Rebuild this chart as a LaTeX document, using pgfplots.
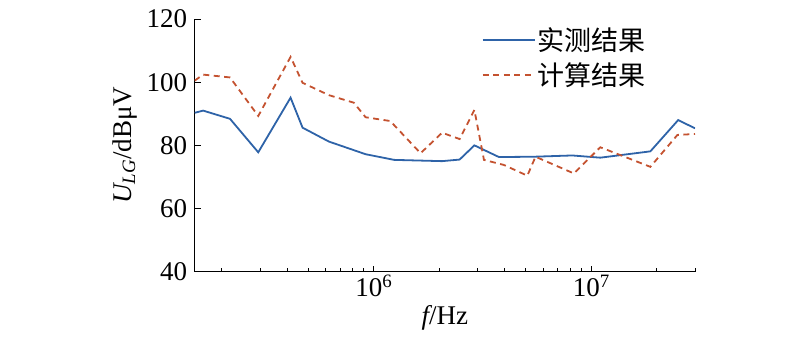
\documentclass[border=0pt]{standalone}
\usepackage{fontspec}
\setmainfont{Liberation Serif}
\newfontfamily\cjk{Noto Sans CJK SC}
\usepackage{pgfplots}
\pgfplotsset{compat=1.18}
\definecolor{cblue}{RGB}{46,99,168}
\definecolor{cred}{RGB}{196,82,48}
\begin{document}
\begin{tikzpicture}
\begin{axis}[
  at={(0,0)}, anchor=south west,
  scale only axis, width=500.3bp, height=252.7bp,
  xmode=log, xmin=1.5e5, xmax=3e7, ymin=40, ymax=120,
  axis x line*=bottom, axis y line*=left,
  axis line style={line width=1bp},
  tick align=inside,
  major tick length=6bp, minor tick length=4bp,
  every tick/.style={black, line width=0.9bp},
  xtick={1e6,1e7}, xticklabels={10\textsuperscript{6},10\textsuperscript{7}},
  minor xtick={2e5,3e5,4e5,5e5,6e5,7e5,8e5,9e5,2e6,3e6,4e6,5e6,6e6,7e6,8e6,9e6,2e7,3e7},
  ytick={40,60,80,100,120},
  /pgf/number format/assume math mode=true,
  font=\fontsize{27bp}{32bp}\selectfont,
  ticklabel style={font=\fontsize{27bp}{32bp}\selectfont},
  yticklabel style={xshift=-4bp},
  xlabel={{\itshape f}/Hz},
  ylabel={{\itshape U}\textsubscript{\itshape LG}/dBμV},
  xlabel style={yshift=-2bp},
  ylabel style={yshift=3bp},
  legend style={draw=none, fill=none, at={(0.574,0.975)}, anchor=north west,
    font=\fontsize{27bp}{32bp}\selectfont\cjk, row sep=7bp, inner sep=0pt},
  legend cell align=left,
  legend image code/.code={\draw[line width=1.8bp,#1] (0bp,0bp) -- (43bp,0bp); \path (0bp,0bp) -- (52bp,0bp);},
]
\addplot[cblue, line width=1.8bp] coordinates {
(1.5e5,90.3) (1.64e5,91.0) (2.18e5,88.4) (2.94e5,77.8) (4.14e5,95.1) (4.7e5,85.6)
(6.21e5,81.2) (9.16e5,77.2) (1.24e6,75.4) (2.06e6,75.0) (2.48e6,75.5) (2.9e6,80.0)
(3.76e6,76.3) (5.44e6,76.4) (8.18e6,76.8) (1.1e7,76.1) (1.87e7,78.1) (2.51e7,88.0) (3e7,85.4)
};
\addlegendentry{实测结果}
\addplot[cred, line width=1.8bp, dash pattern=on 6bp off 4.5bp] coordinates {
(1.5e5,100.5) (1.64e5,102.4) (2.18e5,101.5) (2.94e5,89.3) (4.14e5,108.0) (4.7e5,99.8)
(6.21e5,95.9) (8.09e5,93.5) (9.16e5,88.9) (1.19e6,87.7) (1.64e6,77.5) (2.06e6,84.0)
(2.48e6,82.0) (2.9e6,91.2) (3.21e6,75.4) (3.96e6,73.8) (5.08e6,70.4) (5.54e6,76.4)
(8.32e6,71.1) (1.1e7,79.4) (1.87e7,73.2) (2.49e7,83.3) (3e7,83.6)
};
\addlegendentry{计算结果}
\end{axis}
\path (-194.7bp,-73.3bp) rectangle (605.3bp,271.7bp);
\end{tikzpicture}
\end{document}
